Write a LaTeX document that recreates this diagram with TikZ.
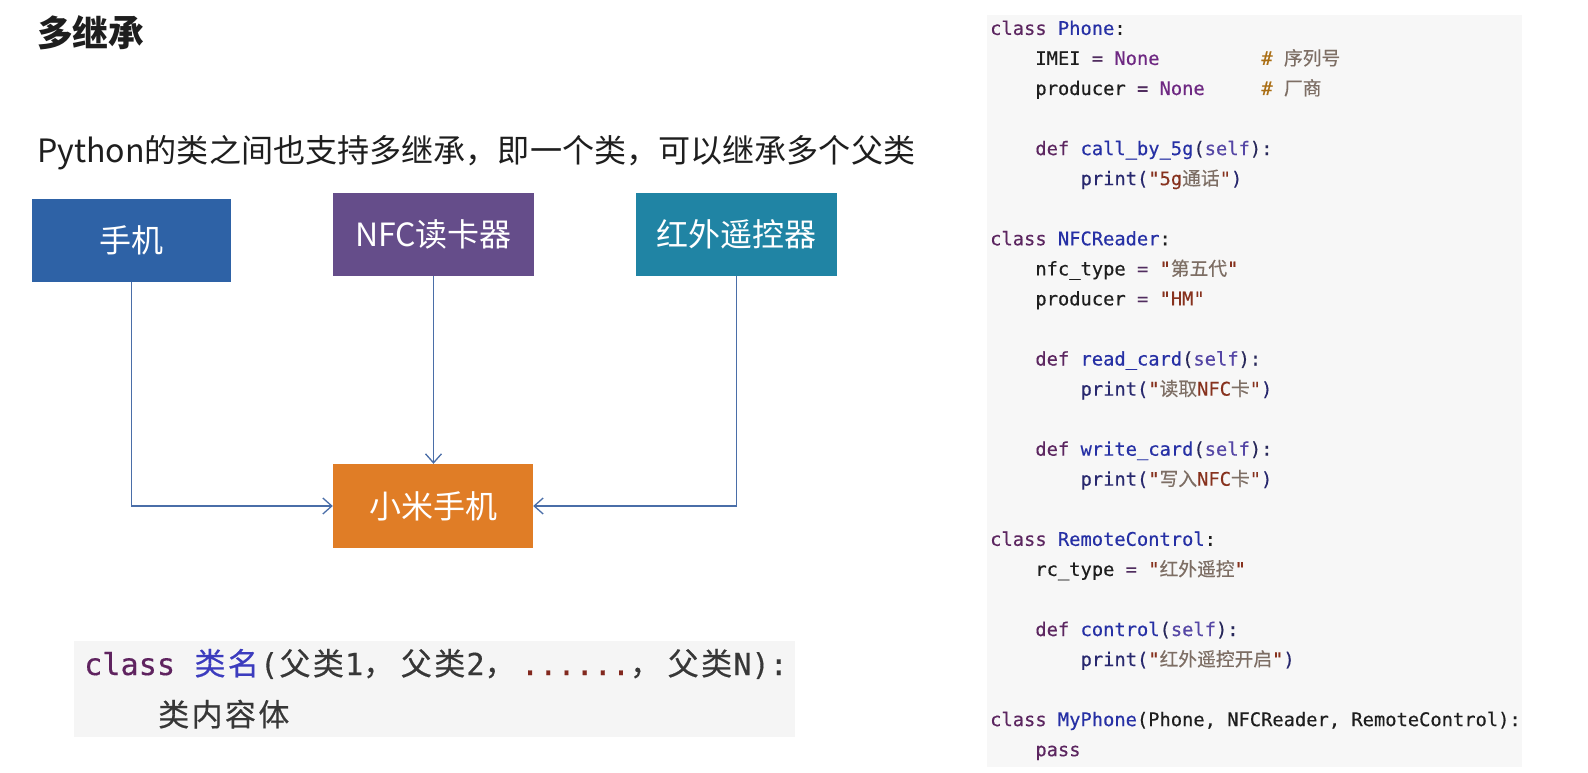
\documentclass[tikz,border=0pt]{standalone}
\usepackage{fontspec}
\setmainfont{Noto Sans CJK SC}
\newfontfamily\cjkfont{Noto Sans CJK SC}
\newfontfamily\codefont[FakeBold=0.4]{DejaVu Sans Mono}
\newfontfamily\cjkcodefont[FakeBold=0.4]{Noto Sans CJK SC}
\usetikzlibrary{arrows.meta}

\definecolor{txt}{RGB}{30,30,30}
\definecolor{phoneblue}{RGB}{46,98,166}
\definecolor{nfcpurple}{RGB}{101,77,138}
\definecolor{irteal}{RGB}{32,132,164}
\definecolor{miorange}{RGB}{224,125,38}
\definecolor{arrowc}{RGB}{74,110,168}
\definecolor{codebg}{RGB}{247,247,247}
\definecolor{lcodebg}{RGB}{245,245,245}
% code colours
\definecolor{kwc}{RGB}{92,38,96}
\definecolor{namec}{RGB}{38,48,165}
\definecolor{nonec}{RGB}{110,40,130}
\definecolor{eqc}{RGB}{80,45,95}
\definecolor{plainc}{RGB}{30,30,30}
\definecolor{strc}{RGB}{135,50,30}
\definecolor{strcjkc}{RGB}{125,110,100}
\definecolor{comc}{RGB}{170,110,20}
\definecolor{printc}{RGB}{40,40,110}
\definecolor{selfc}{RGB}{85,70,165}
\definecolor{parc}{RGB}{40,40,90}
\definecolor{lkw}{RGB}{95,35,95}
\definecolor{lname}{RGB}{60,60,190}
\definecolor{ltext}{RGB}{55,55,55}
\definecolor{ldot}{RGB}{130,40,30}

\newcommand\ckw[1]{\textcolor{kwc}{#1}}
\newcommand\cname[1]{\textcolor{namec}{#1}}
\newcommand\cnone[1]{\textcolor{nonec}{#1}}
\newcommand\ceq{\textcolor{eqc}{=}}
\newcommand\cplain[1]{\textcolor{plainc}{#1}}
\newcommand\cstr[1]{\textcolor{strc}{#1}}
\newcommand\cstrz[1]{\textcolor{strcjkc}{\cjkcodefont #1}}
\newcommand\ccom[1]{\textcolor{comc}{#1}}
\newcommand\cprint[1]{\textcolor{printc}{#1}}
\newcommand\cself{\textcolor{parc}{(}\textcolor{selfc}{self}\textcolor{parc}{):}}
% CJK characters in fixed-width cells (left code block)
\newcommand\cjs[1]{\cjsloop#1\relax}
\def\cjsloop#1{\ifx\relax#1\else\makebox[33.4pt]{\cjkcodefont\fontsize{31}{36}\selectfont #1}\expandafter\cjsloop\fi}
\newcommand\cjcomma{\makebox[36.4pt][l]{\cjkcodefont\fontsize{31}{36}\selectfont ，}}

\begin{document}
\begin{tikzpicture}[x=1pt,y=-1pt,
  box/.style={rectangle, inner sep=0pt, text=white,
    font=\fontsize{32}{38}\selectfont},
  arr/.style={draw=arrowc, line width=1.3pt,
    -{Straight Barb[length=9pt,width=16pt,line width=1.3pt]}},
  code/.style={anchor=base west, inner sep=0pt,
    font=\codefont\fontsize{18.75}{22}\selectfont},
  lcode/.style={anchor=base west, inner sep=0pt,
    font=\codefont\fontsize{30.2}{35}\selectfont}]

\fill[white] (0,0) rectangle (1588,773);
\useasboundingbox (0,0) rectangle (1588,773);

% ---------- title and subtitle ----------
\node[anchor=base west, inner sep=0pt, text=txt,
  font=\bfseries\fontsize{35.7}{42}\selectfont] (title) at (37,47) {多继承};
\node[anchor=base west, inner sep=0pt, text=txt,
  font=\fontsize{32.1}{38}\selectfont] (sub) at (37,163)
  {Python的类之间也支持多继承，即一个类，可以继承多个父类};

% ---------- boxes ----------
\node[box, fill=phoneblue, minimum width=199pt, minimum height=83pt]
  (phone) at (131.5,240) {手机};
\node[box, fill=nfcpurple, minimum width=201pt, minimum height=83pt]
  (nfc) at (433.5,234.3) {NFC读卡器};
\node[box, fill=irteal, minimum width=201pt, minimum height=83pt]
  (ir) at (736.5,234.3) {红外遥控器};
\node[box, fill=miorange, minimum width=200pt, minimum height=84pt]
  (mi) at (433,506) {小米手机};

\draw[arr] (phone.south) |- (mi.west);
\draw[arr] (nfc.south) -- (nfc.south |- mi.north);
\draw[arr] (ir.south) |- (mi.east);

% ---------- left code block ----------
\fill[lcodebg] (74,641) rectangle (795,737);
\node[lcode] (l1) at (84,675)
  {\textcolor{lkw}{class} \textcolor{lname}{\cjs{类名}}\textcolor{ltext}{(\cjs{父类}1\cjcomma\cjs{父类}2\cjcomma}\textcolor{ldot}{......}\textcolor{ltext}{\cjcomma\cjs{父类}N):}};
\node[lcode] (l2) at (156.8,726) {\textcolor{ltext}{\cjs{类内容体}}};

% ---------- right code block ----------
\fill[codebg] (987,15) rectangle (1522,767);
\node[code] (c1)  at (990,34.9)   {\ckw{class} \cname{Phone}\cplain{:}};
\node[code] (c2)  at (1035.2,64.95) {\cplain{IMEI} \ceq{} \cnone{None}};
\node[code] (c2c) at (1261.2,64.95) {\ccom{\#} \cstrz{序列号}};
\node[code] (c3)  at (1035.2,95.0) {\cplain{producer} \ceq{} \cnone{None}};
\node[code] (c3c) at (1261.2,95.0) {\ccom{\#} \cstrz{厂商}};
\node[code] (c5)  at (1035.2,155.1) {\ckw{def} \cname{call\_by\_5g}\cself};
\node[code] (c6)  at (1080.4,185.2) {\cprint{print(}\cstr{"5g}\cstrz{通话}\cstr{"}\cprint{)}};
\node[code] (c8)  at (990,245.3) {\ckw{class} \cname{NFCReader}\cplain{:}};
\node[code] (c9)  at (1035.2,275.4) {\cplain{nfc\_type} \ceq{} \cstr{"}\cstrz{第五代}\cstr{"}};
\node[code] (c10) at (1035.2,305.4) {\cplain{producer} \ceq{} \cstr{"HM"}};
\node[code] (c12) at (1035.2,365.5) {\ckw{def} \cname{read\_card}\cself};
\node[code] (c13) at (1080.4,395.6) {\cprint{print(}\cstr{"}\cstrz{读取}\cstr{NFC}\cstrz{卡}\cstr{"}\cprint{)}};
\node[code] (c15) at (1035.2,455.7) {\ckw{def} \cname{write\_card}\cself};
\node[code] (c16) at (1080.4,485.7) {\cprint{print(}\cstr{"}\cstrz{写入}\cstr{NFC}\cstrz{卡}\cstr{"}\cprint{)}};
\node[code] (c18) at (990,545.8) {\ckw{class} \cname{RemoteControl}\cplain{:}};
\node[code] (c19) at (1035.2,575.9) {\cplain{rc\_type} \ceq{} \cstr{"}\cstrz{红外遥控}\cstr{"}};
\node[code] (c21) at (1035.2,636.0) {\ckw{def} \cname{control}\cself};
\node[code] (c22) at (1080.4,666.0) {\cprint{print(}\cstr{"}\cstrz{红外遥控开启}\cstr{"}\cprint{)}};
\node[code] (c24) at (990,726.1) {\ckw{class} \cname{MyPhone}\cplain{(Phone, NFCReader, RemoteControl):}};
\node[code] (c25) at (1035.2,756.2) {\ckw{pass}};
\end{tikzpicture}
\end{document}
